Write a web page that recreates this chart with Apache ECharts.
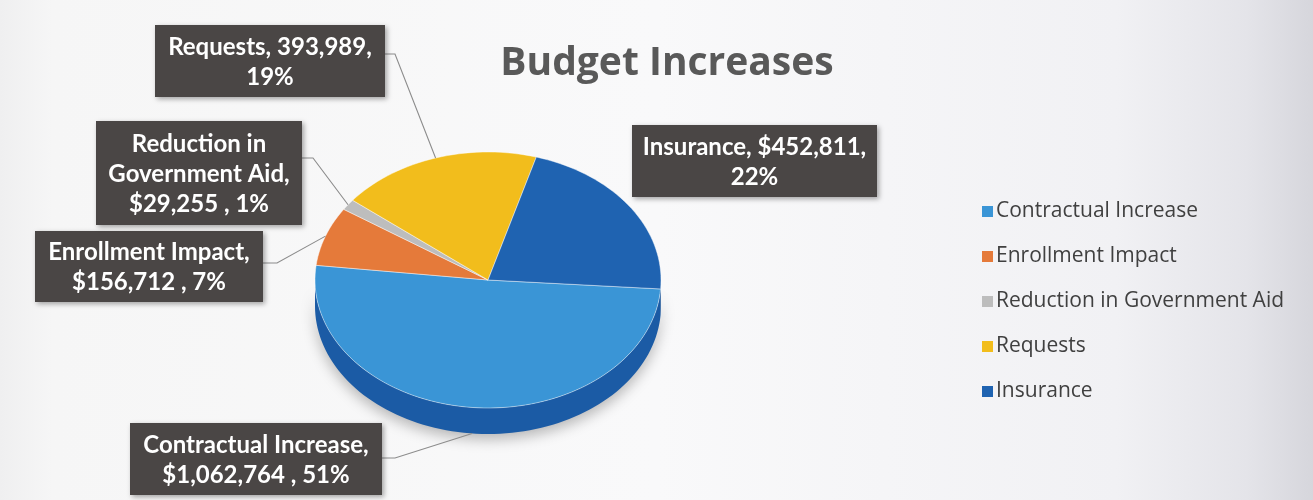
<!DOCTYPE html>
<html>
<head>
<meta charset="utf-8">
<script src="https://cdn.jsdelivr.net/npm/echarts@6/dist/echarts.min.js"></script>
<style>
  html, body { margin: 0; padding: 0; }
  #chart { width: 1313px; height: 500px; }
</style>
</head>
<body>
<div id="chart"></div>
<script>
// data
const categories = ["Contractual Increase", "Enrollment Impact", "Reduction in Government Aid", "Requests", "Insurance"];
const values = [1062764, 156712, 29255, 393989, 452811];
const labelTexts = [
  "Contractual Increase,\n$1,062,764 , 51%",
  "Enrollment Impact,\n$156,712 , 7%",
  "Reduction in\nGovernment Aid,\n$29,255 , 1%",
  "Requests, 393,989,\n19%",
  "Insurance, $452,811,\n22%",
];

const topColors = ["#3a95d6", "#e57a3a", "#bdbdbd", "#f2bd1c", "#1f63b1"];
const sideColors = ["#1b5ba5", "#b4582a", "#8f8f8f", "#c4960f", "#174d8c"];

// pie geometry (tilted ellipse)
const pie = { cx: 488, cy: 280, rx: 173, ry: 128, depth: 26, start: 94 };

// label boxes [x, y, w, h] and where the leader line leaves the box
const labelBoxes = [
  { box: [130, 423, 252, 72], out: [[382, 458], [395, 458]], bottom: true },
  { box: [35, 231, 228, 71], out: [[263, 263], [277, 263]] },
  { box: [96, 121, 206, 104], out: [[302, 158], [313, 158]] },
  { box: [155, 25, 230, 72], out: [[382, 54], [395, 54]] },
  { box: [632, 125, 245, 72], out: null },
];

const total = values.reduce((a, b) => a + b, 0);
const startAngles = [];
let acc = pie.start;
values.forEach((v) => {
  startAngles.push(acc);
  acc += (v / total) * 360;
});

const rad = (d) => (d * Math.PI) / 180;
function pt(deg, dy) {
  return [pie.cx + pie.rx * Math.sin(rad(deg)), pie.cy - pie.ry * Math.cos(rad(deg)) + (dy || 0)];
}
function arc(a0, a1, dy) {
  const n = Math.max(2, Math.ceil(Math.abs(a1 - a0) / 2));
  const pts = [];
  for (let i = 0; i <= n; i++) pts.push(pt(a0 + ((a1 - a0) * i) / n, dy));
  return pts;
}

function renderSlice(params, api) {
  const i = params.dataIndex;
  const a0 = startAngles[i];
  const a1 = a0 + (api.value(0) / total) * 360;
  const children = [];

  // visible front side: angles between 90 and 270 (mod 360)
  [[90, 270], [450, 630]].forEach(([lo, hi]) => {
    const s = Math.max(a0, lo);
    const e = Math.min(a1, hi);
    if (e > s) {
      const top = arc(s, e, 0);
      const bot = arc(e, s, pie.depth);
      children.push({
        type: "polygon",
        z2: 1,
        shape: { points: top.concat(bot) },
        style: {
          fill: sideColors[i],
          shadowBlur: 14,
          shadowOffsetY: 5,
          shadowColor: "rgba(0,0,0,0.28)",
        },
      });
    }
  });

  // top face
  children.push({
    type: "polygon",
    z2: 5,
    shape: { points: [[pie.cx, pie.cy]].concat(arc(a0, a1, 0)) },
    style: { fill: topColors[i], stroke: "rgba(255,255,255,0.55)", lineWidth: 0.8 },
  });

  // leader line from the label box to the slice edge
  const lb = labelBoxes[i];
  const mid = (a0 + a1) / 2;
  if (lb.out) {
    const anchor = pt(mid, lb.bottom ? pie.depth : 0);
    children.push({
      type: "polyline",
      z2: 8,
      shape: { points: lb.out.concat([anchor]) },
      style: { stroke: "#8c8c8c", lineWidth: 1.1, fill: null },
    });
  }

  // label box
  const [bx, by, bw, bh] = lb.box;
  children.push({
    type: "rect",
    z2: 10,
    shape: { x: bx, y: by, width: bw, height: bh },
    style: {
      fill: "#4a4645",
      shadowBlur: 5,
      shadowOffsetX: 2,
      shadowOffsetY: 2,
      shadowColor: "rgba(0,0,0,0.35)",
    },
  });
  children.push({
    type: "text",
    z2: 11,
    style: {
      text: labelTexts[i],
      x: bx + bw / 2,
      y: by + bh / 2 + 1,
      align: "center",
      verticalAlign: "middle",
      fill: "#ffffff",
      font: "bold 24px Lato, 'Open Sans', sans-serif",
      lineHeight: 30,
    },
  });

  return { type: "group", children: children };
}

const chart = echarts.init(document.getElementById("chart"));

chart.setOption({
  backgroundColor: {
    type: "linear",
    x: 0, y: 0, x2: 1, y2: 0,
    colorStops: [
      { offset: 0, color: "#efeff0" },
      { offset: 0.04, color: "#f6f6f6" },
      { offset: 0.5, color: "#f9f9fa" },
      { offset: 0.85, color: "#f1f1f4" },
      { offset: 0.95, color: "#e4e4e9" },
      { offset: 1, color: "#d6d6dc" },
    ],
  },
  animation: false,
  title: {
    text: "Budget Increases",
    left: 662,
    top: 39,
    textAlign: "center",
    textStyle: {
      fontFamily: "'Open Sans', Lato, sans-serif",
      fontWeight: "bold",
      fontSize: 39,
      color: "#595959",
    },
  },
  legend: {
    orient: "vertical",
    left: 977,
    top: 195,
    icon: "rect",
    itemWidth: 11,
    itemHeight: 11,
    itemGap: 22,
    data: categories,
    textStyle: {
      fontFamily: "'Open Sans', Lato, sans-serif",
      fontSize: 21,
      lineHeight: 23,
      color: "#404040",
      padding: [0, 0, 0, -2],
    },
  },
  series: [
    {
      type: "custom",
      name: "Budget",
      coordinateSystem: "none",
      renderItem: renderSlice,
      data: values.map((v, i) => ({ name: categories[i], value: [v] })),
      silent: true,
    },
    {
      // keeps the legend colours tied to the categories
      type: "pie",
      name: "legend",
      radius: [0, 0],
      center: [-100, -100],
      label: { show: false },
      labelLine: { show: false },
      silent: true,
      data: values.map((v, i) => ({ name: categories[i], value: v, itemStyle: { color: topColors[i] } })),
    },
  ],
});
</script>
</body>
</html>
